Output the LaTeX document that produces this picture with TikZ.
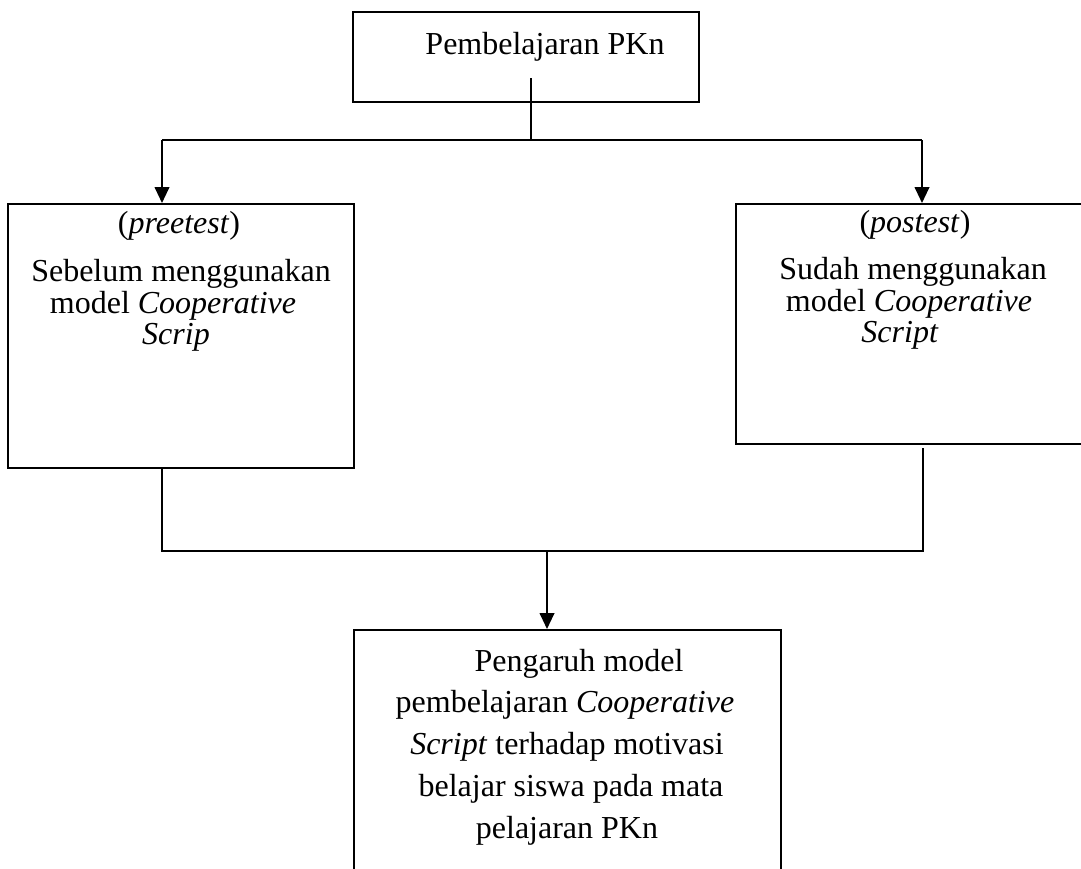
\documentclass[tikz,border=0pt]{standalone}
\usepackage{fontspec}
\setmainfont{Liberation Serif}
\usetikzlibrary{arrows.meta}
\begin{document}
\begin{tikzpicture}[x=0.75pt,y=-0.75pt,
  box/.style={draw,line width=1.5pt,inner sep=0pt},
  txt/.style={inner sep=0pt,anchor=base,font=\fontsize{24}{29}\selectfont},
  conn/.style={line width=1.5pt},
  arr/.style={conn,-{Triangle[width=11pt,length=12pt]}}]
\useasboundingbox (0,0) rectangle (1081,868);
\clip (0,0) rectangle (1081,868);
% boxes
\node[box,minimum width=259.5pt,minimum height=67.5pt] (top) at (526,57) {};
\node[box,minimum width=259.5pt,minimum height=198pt] (pre) at (181,336) {};
\node[box,minimum width=267pt,minimum height=180pt] (post) at (914,324) {};
\node[box,minimum width=320.25pt,minimum height=202.5pt] (res) at (567.5,765) {};
% texts
\node[txt] (tT) at (545,54) {Pembelajaran PKn};
\node[txt] (p1) at (179,233) {(\textit{preetest})};
\node[txt] (p2) at (181,281) {Sebelum menggunakan};
\node[txt] (p3) at (173,313) {model \textit{Cooperative}};
\node[txt] (p4) at (176,344) {\textit{Scrip}};
\node[txt] (q1) at (915,232) {(\textit{postest})};
\node[txt] (q2) at (913,279) {Sudah menggunakan};
\node[txt] (q3) at (909,311) {model \textit{Cooperative}};
\node[txt] (q4) at (900,342) {\textit{Script}};
\node[txt] (r1) at (579,671) {Pengaruh model};
\node[txt] (r2) at (565,712) {pembelajaran \textit{Cooperative}};
\node[txt] (r3) at (567,754) {\textit{Script} terhadap motivasi};
\node[txt] (r4) at (571,796) {belajar siswa pada mata};
\node[txt] (r5) at (567,838) {pelajaran PKn};
% junction coordinates
\coordinate (s0) at (531,78);
\coordinate (j0) at (531,140);
\coordinate (jl) at (162,140);
\coordinate (jr) at (922,140);
\coordinate (bl) at (162,551);
\coordinate (br) at (923,551);
\coordinate (bm) at (547,551);
\coordinate (sr) at (923,448);
% connectors
\draw[conn] (s0) -- (j0);
\draw[conn] (jl) -- (jr);
\draw[arr] (jl) -- (jl |- pre.north);
\draw[arr] (jr) -- (jr |- post.north);
\draw[conn] (bl |- pre.south) -- (bl) -- (br) -- (sr);
\draw[arr] (bm) -- (bm |- res.north);
\end{tikzpicture}
\end{document}
